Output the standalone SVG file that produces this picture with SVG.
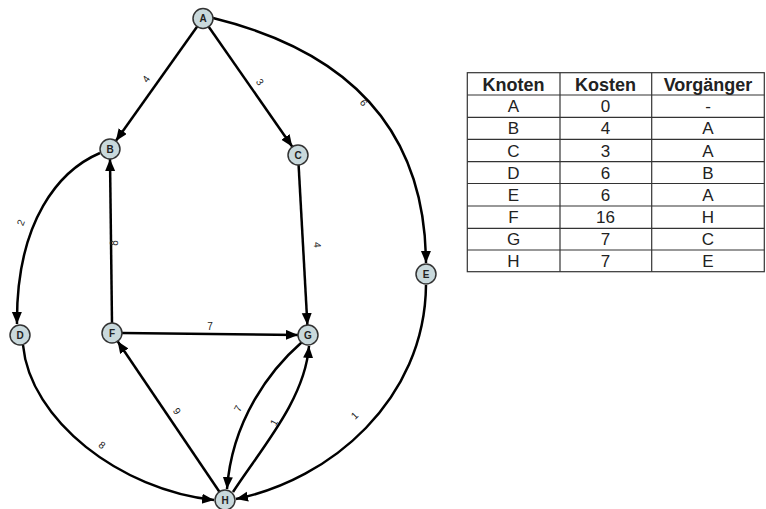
<svg xmlns="http://www.w3.org/2000/svg" width="766" height="509" viewBox="0 0 766 509">
<style>
.edge{fill:none;stroke:#000;stroke-width:2.5;marker-end:url(#arr)}
.node circle{fill:#c9d9dc;stroke:#333;stroke-width:1.5}
.node text{font-family:"Liberation Sans",Arial,sans-serif;font-size:10px;font-weight:bold;fill:#222;text-anchor:middle}
.lbl{font-family:"Liberation Sans",Arial,sans-serif;font-size:10px;fill:#222;text-anchor:middle}
.tbl line,.tbl rect{stroke:#333;stroke-width:1.2;fill:none}
.th{font-family:"Liberation Sans",Arial,sans-serif;font-size:18px;font-weight:bold;fill:#222;text-anchor:middle}
.td{font-family:"Liberation Sans",Arial,sans-serif;font-size:17px;fill:#222;text-anchor:middle}
</style>
<defs>
<marker id="arr" markerUnits="userSpaceOnUse" markerWidth="13" markerHeight="11" refX="12" refY="5" orient="auto">
<path d="M0,0 L12,5 L0,10 z" fill="#000"/>
</marker>
</defs>
<rect width="766" height="509" fill="#fff"/>
<g id="connectors">
<line class="edge" x1="197.2" y1="26.6" x2="115.8" y2="140.9"/>
<line class="edge" x1="208.7" y1="26.7" x2="292.3" y2="146.8"/>
<path class="edge" d="M213,18 Q425,70 426,263"/>
<path class="edge" d="M100,153 C60,170 16,220 17,324"/>
<line class="edge" x1="112" y1="323" x2="110" y2="159"/>
<line class="edge" x1="298.6" y1="165" x2="307.4" y2="325"/>
<line class="edge" x1="122" y1="333" x2="298" y2="335"/>
<path class="edge" d="M23,345 C30,420 120,490 214,500"/>
<line class="edge" x1="219.4" y1="491.7" x2="117.6" y2="341.3"/>
<path class="edge" d="M302,342 C270,370 232,420 227,489"/>
<path class="edge" d="M233,492 C260,450 305,400 309,346"/>
<path class="edge" d="M426,285 C425,400 330,480 236,499"/>
<text class="lbl" transform="translate(149,81) rotate(-54)">4</text>
<text class="lbl" transform="translate(257,84) rotate(55)">3</text>
<text class="lbl" transform="translate(361,105) rotate(50)">6</text>
<text class="lbl" transform="translate(24,224) rotate(-68)">2</text>
<text class="lbl" transform="translate(118,243) rotate(-90)">8</text>
<text class="lbl" transform="translate(314,245) rotate(87)">4</text>
<text class="lbl" x="210" y="330">7</text>
<text class="lbl" transform="translate(174,413) rotate(56)">9</text>
<text class="lbl" transform="translate(100,448) rotate(36)">8</text>
<text class="lbl" transform="translate(241,410) rotate(-63)">7</text>
<text class="lbl" transform="translate(277,424) rotate(-62)">1</text>
<text class="lbl" transform="translate(357,418) rotate(-44)">1</text>
</g>
<g id="A" class="node"><circle cx="203" cy="18.5" r="10"/><text x="203" y="22">A</text></g>
<g id="B" class="node"><circle cx="110" cy="149" r="10"/><text x="110" y="152.5">B</text></g>
<g id="C" class="node"><circle cx="298" cy="155" r="10"/><text x="298" y="158.5">C</text></g>
<g id="D" class="node"><circle cx="20" cy="335" r="10"/><text x="20" y="338.5">D</text></g>
<g id="E" class="node"><circle cx="426" cy="274" r="10"/><text x="426" y="277.5">E</text></g>
<g id="F" class="node"><circle cx="112" cy="333" r="10"/><text x="112" y="336.5">F</text></g>
<g id="G" class="node"><circle cx="308" cy="335" r="10"/><text x="308" y="338.5">G</text></g>
<g id="H" class="node"><circle cx="225" cy="500" r="10"/><text x="225" y="503.5">H</text></g>
<g id="table" class="tbl">
<rect x="467.3" y="72.7" width="297" height="199"/>
<line x1="560" y1="72.7" x2="560" y2="271.7"/>
<line x1="651.7" y1="72.7" x2="651.7" y2="271.7"/>
<line x1="467.3" y1="95" x2="764.3" y2="95"/>
<line x1="467.3" y1="117.3" x2="764.3" y2="117.3"/>
<line x1="467.3" y1="139.3" x2="764.3" y2="139.3"/>
<line x1="467.3" y1="161.7" x2="764.3" y2="161.7"/>
<line x1="467.3" y1="183.5" x2="764.3" y2="183.5"/>
<line x1="467.3" y1="206" x2="764.3" y2="206"/>
<line x1="467.3" y1="228.3" x2="764.3" y2="228.3"/>
<line x1="467.3" y1="250" x2="764.3" y2="250"/>
<text class="th" x="513.5" y="90.5">Knoten</text>
<text class="th" x="605.5" y="90.5">Kosten</text>
<text class="th" x="708" y="90.5">Vorgänger</text>
<text class="td" x="513.5" y="112.3">A</text><text class="td" x="605.5" y="112.3">0</text><text class="td" x="708" y="112.3">-</text>
<text class="td" x="513.5" y="134.4">B</text><text class="td" x="605.5" y="134.4">4</text><text class="td" x="708" y="134.4">A</text>
<text class="td" x="513.5" y="156.6">C</text><text class="td" x="605.5" y="156.6">3</text><text class="td" x="708" y="156.6">A</text>
<text class="td" x="513.5" y="178.7">D</text><text class="td" x="605.5" y="178.7">6</text><text class="td" x="708" y="178.7">B</text>
<text class="td" x="513.5" y="200.8">E</text><text class="td" x="605.5" y="200.8">6</text><text class="td" x="708" y="200.8">A</text>
<text class="td" x="513.5" y="223.2">F</text><text class="td" x="605.5" y="223.2">16</text><text class="td" x="708" y="223.2">H</text>
<text class="td" x="513.5" y="245.2">G</text><text class="td" x="605.5" y="245.2">7</text><text class="td" x="708" y="245.2">C</text>
<text class="td" x="513.5" y="267">H</text><text class="td" x="605.5" y="267">7</text><text class="td" x="708" y="267">E</text>
</g>
</svg>
